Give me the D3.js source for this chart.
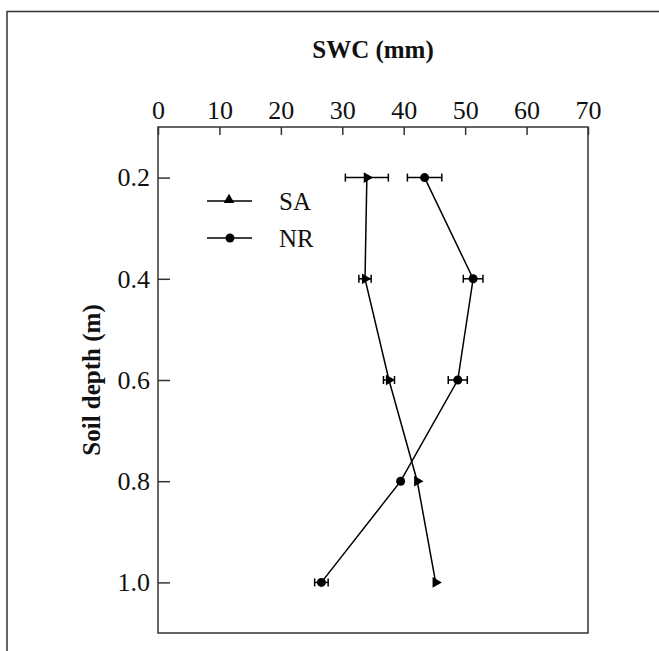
<!DOCTYPE html>
<html>
<head>
<meta charset="utf-8">
<script src="https://cdn.jsdelivr.net/npm/d3@7"></script>
<style>
  html, body { margin: 0; padding: 0; background: #fff; }
  svg text { font-family: "Liberation Serif", "DejaVu Serif", serif; fill: #111; }
</style>
</head>
<body>
<svg id="chart" width="659" height="651"></svg>
<script>
// soil depth (m) and SWC (mm)
const depths = [0.2, 0.4, 0.6, 0.8, 1.0];
const saMean = [34.0, 33.7, 37.6, 42.2, 45.2];
const saErr = [3.5, 1.0, 0.9, 0.2, 0.2];
const nrMean = [43.4, 51.3, 48.8, 39.5, 26.6];
const nrErr = [2.8, 1.6, 1.55, 0.2, 1.1];
const xTicks = [0, 10, 20, 30, 40, 50, 60, 70];
const yTicks = [0.2, 0.4, 0.6, 0.8, 1.0];

const svg = d3.select('#chart');
const plotLeft = 158, plotRight = 588, plotTop = 127, plotBottom = 633;

const x = d3.scaleLinear().domain([0, 70]).range([plotLeft, plotRight]);
const y = d3.scaleLinear().domain([0.1, 1.1]).range([plotTop, plotBottom]);

// outer frame (runs off the right and bottom edges)
svg.append('path')
    .attr('d', 'M7,651 L7,11.5 L659,11.5')
    .attr('fill', 'none')
    .attr('stroke', '#333')
    .attr('stroke-width', 1.5);

// axes
const xAxis = d3.axisTop(x).tickValues(xTicks).tickSizeInner(-8).tickSizeOuter(0).tickPadding(8);
const yAxis = d3.axisLeft(y).tickValues(yTicks).tickFormat(d3.format('.1f'))
    .tickSizeInner(-12).tickSizeOuter(0).tickPadding(8);

const gx = svg.append('g').attr('transform', `translate(0,${plotTop})`).call(xAxis);
const gy = svg.append('g').attr('transform', `translate(${plotLeft},0)`).call(yAxis);
[gx, gy].forEach(g => {
    g.select('.domain').remove();
    g.selectAll('.tick line').attr('stroke', '#333').attr('stroke-width', 1.5);
    g.selectAll('.tick text').attr('font-size', 26)
        .style('font-family', '"Liberation Serif", serif').attr('fill', '#111');
});

// plot box
svg.append('rect')
    .attr('x', plotLeft).attr('y', plotTop)
    .attr('width', plotRight - plotLeft).attr('height', plotBottom - plotTop)
    .attr('fill', 'none').attr('stroke', '#333').attr('stroke-width', 1.5);

// titles
svg.append('text')
    .attr('x', (plotLeft + plotRight) / 2).attr('y', 58)
    .attr('text-anchor', 'middle')
    .attr('font-size', 25).attr('font-weight', 'bold')
    .text('SWC (mm)');

svg.append('text')
    .attr('transform', `translate(100,${(plotTop + plotBottom) / 2}) rotate(-90)`)
    .attr('text-anchor', 'middle')
    .attr('font-size', 25).attr('font-weight', 'bold')
    .text('Soil depth (m)');

const series = [
    { name: 'SA', mean: saMean, err: saErr, marker: 'triangle' },
    { name: 'NR', mean: nrMean, err: nrErr, marker: 'circle' }
];

const line = d3.line().x(d => x(d[0])).y(d => y(d[1]));
const triangle = d3.symbol(d3.symbolTriangle, 50);

series.forEach(s => {
    const pts = depths.map((dp, i) => [s.mean[i], dp, s.err[i]]);

    svg.append('path')
        .datum(pts)
        .attr('d', line)
        .attr('fill', 'none')
        .attr('stroke', '#000')
        .attr('stroke-width', 1.5);

    // horizontal error bars with caps (tiny ones sit hidden under the marker)
    const eb = svg.append('g').attr('stroke', '#000').attr('stroke-width', 1.5);
    pts.filter(p => p[2] >= 0.5).forEach(p => {
        const x0 = x(p[0] - p[2]), x1 = x(p[0] + p[2]), yy = y(p[1]);
        eb.append('line').attr('x1', x0).attr('x2', x1).attr('y1', yy).attr('y2', yy);
        eb.append('line').attr('x1', x0).attr('x2', x0).attr('y1', yy - 4).attr('y2', yy + 4);
        eb.append('line').attr('x1', x1).attr('x2', x1).attr('y1', yy - 4).attr('y2', yy + 4);
    });

    if (s.marker === 'circle') {
        svg.append('g').selectAll('circle')
            .data(pts).enter().append('circle')
            .attr('cx', d => x(d[0])).attr('cy', d => y(d[1]))
            .attr('r', 4.5).attr('fill', '#000');
    } else {
        svg.append('g').selectAll('path')
            .data(pts).enter().append('path')
            .attr('d', triangle)
            .attr('transform', d => `translate(${x(d[0])},${y(d[1])}) rotate(90)`)
            .attr('fill', '#000');
    }
});

// legend
const legend = svg.append('g');
series.forEach((s, i) => {
    const ly = 201 + i * 37;
    legend.append('line')
        .attr('x1', 207).attr('x2', 252).attr('y1', ly).attr('y2', ly)
        .attr('stroke', '#000').attr('stroke-width', 1.5);
    if (s.marker === 'circle') {
        legend.append('circle').attr('cx', 230).attr('cy', ly).attr('r', 4.5).attr('fill', '#000');
    } else {
        legend.append('path').attr('d', triangle)
            .attr('transform', `translate(229,${ly - 1})`).attr('fill', '#000');
    }
    legend.append('text')
        .attr('x', 279).attr('y', ly + 9)
        .attr('font-size', 25)
        .text(s.name);
});
</script>
</body>
</html>
